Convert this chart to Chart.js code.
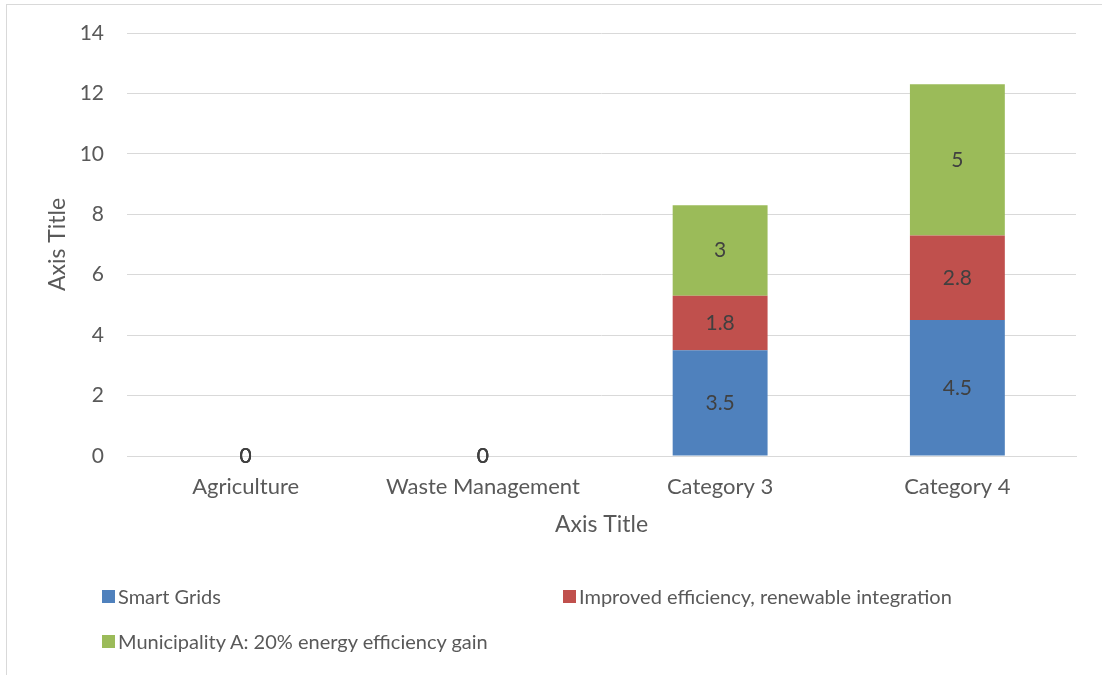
<!DOCTYPE html>
<html><head><meta charset="utf-8">
<script src="https://cdn.jsdelivr.net/npm/chart.js@4.4.0/dist/chart.umd.min.js"></script>
<style>
html,body{margin:0;padding:0;background:#fff;}
#wrap{position:relative;width:1102px;height:675px;overflow:hidden;background:#fff;}
#frame{position:absolute;left:6px;top:4px;width:1300px;height:900px;border:1px solid #d9d9d9;box-sizing:border-box;}
#chart{position:absolute;left:0;top:0;}
.lg{position:absolute;display:flex;align-items:center;font:20px "Lato",sans-serif;color:#595959;white-space:nowrap;height:24px;}
.lg i{display:inline-block;width:13px;height:13px;margin-right:3px;}
</style></head><body>
<div id="wrap">
  <div id="frame"></div>
  <canvas id="chart" width="1102" height="675"></canvas>
  <div id="legend"></div>
</div>
<script>
// categories and series
const categories = ['Agriculture', 'Waste Management', 'Category 3', 'Category 4'];
const smartGrids = [0, 0, 3.5, 4.5];
const improvedEfficiency = [0, 0, 1.8, 2.8];
const municipalityA = [0, 0, 3, 5];
const seriesNames = ['Smart Grids', 'Improved efficiency, renewable integration', 'Municipality A: 20% energy efficiency gain'];
const seriesColors = ['#4F81BD', '#C0504D', '#9BBB59'];
const yMin = 0, yMax = 14, yStep = 2;

const FONT = 'Lato';
const textGrey = '#595959';
const gridGrey = '#d9d9d9';

// value labels centred in each stacked segment
const segmentLabels = {
  id: 'segmentLabels',
  afterDatasetsDraw(chart) {
    const ctx = chart.ctx;
    ctx.save();
    ctx.font = '21px "' + FONT + '"';
    ctx.fillStyle = '#404040';
    ctx.textAlign = 'center';
    ctx.textBaseline = 'middle';
    chart.data.datasets.forEach((ds, i) => {
      const meta = chart.getDatasetMeta(i);
      meta.data.forEach((bar, j) => {
        const v = ds.data[j];
        ctx.fillText(String(v), bar.x, (bar.y + bar.base) / 2);
      });
    });
    ctx.restore();
  }
};

const values = [smartGrids, improvedEfficiency, municipalityA];
const chart = new Chart(document.getElementById('chart'), {
  type: 'bar',
  data: {
    labels: categories,
    datasets: values.map((d, i) => ({
      label: seriesNames[i],
      data: d,
      backgroundColor: seriesColors[i],
      borderWidth: 0,
      categoryPercentage: 1,
      barPercentage: 0.4
    }))
  },
  options: {
    responsive: false,
    animation: false,
    devicePixelRatio: 1,
    layout: { padding: { left: 6, top: 33, right: 26, bottom: 0 } },
    plugins: { legend: { display: false }, tooltip: { enabled: false } },
    scales: {
      x: {
        stacked: true,
        grid: { display: false, drawTicks: false },
        border: { display: true, color: gridGrey, width: 1 },
        ticks: { color: textGrey, font: { family: FONT, size: 22 }, padding: 18, maxRotation: 0, autoSkip: false },
        title: { display: true, text: 'Axis Title', color: textGrey, font: { family: FONT, size: 23 }, padding: { top: 0, bottom: 137 } },
        afterFit(scale) { scale.height = 219; }
      },
      y: {
        stacked: true,
        min: yMin, max: yMax,
        grid: { color: gridGrey, lineWidth: 1, drawTicks: false },
        border: { display: false },
        ticks: { stepSize: yStep, color: textGrey, font: { family: FONT, size: 21 }, padding: 23 },
        title: { display: true, text: 'Axis Title', color: textGrey, font: { family: FONT, size: 23 }, padding: { top: 38, bottom: 0 } },
        afterFit(scale) {
          scale.width = 121;
          // keep the plot top fixed by the layout padding alone
          scale.paddingTop = 0;
          scale.paddingBottom = 0;
        }
      }
    }
  },
  plugins: [segmentLabels]
});

// two-column legend below the plot
const legendPos = [[102, 584], [563, 584], [102, 629]];
const legendEl = document.getElementById('legend');
chart.data.datasets.forEach((ds, i) => {
  const item = document.createElement('div');
  item.className = 'lg';
  item.style.left = legendPos[i][0] + 'px';
  item.style.top = legendPos[i][1] + 'px';
  const sw = document.createElement('i');
  sw.style.background = ds.backgroundColor;
  item.appendChild(sw);
  item.appendChild(document.createTextNode(ds.label));
  legendEl.appendChild(item);
});
</script></body></html>
